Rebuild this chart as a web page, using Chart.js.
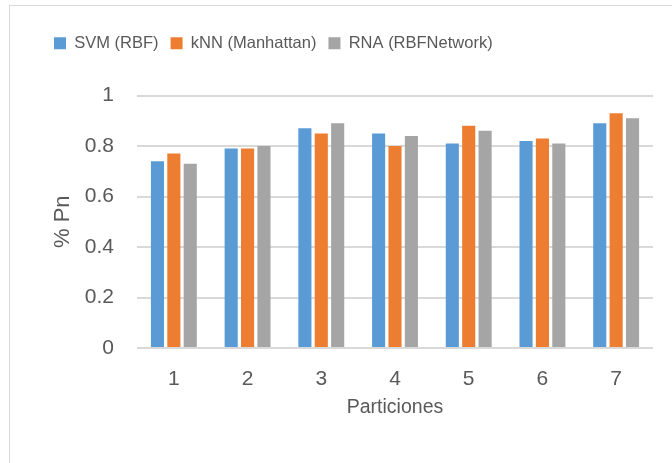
<!DOCTYPE html>
<html>
<head>
<meta charset="utf-8">
<script src="https://cdn.jsdelivr.net/npm/chart.js@4"></script>
<style>
  html, body { margin: 0; padding: 0; background: #fff; }
  #wrap { position: relative; width: 672px; height: 463px; overflow: hidden; }
  #frame { position: absolute; left: 9px; top: 5px; width: 700px; height: 500px; border: 1px solid #d9d9d9; box-sizing: border-box; }
  canvas { position: absolute; left: 0; top: 0; }
</style>
</head>
<body>
<div id="wrap">
  <div id="frame"></div>
  <canvas id="c" width="672" height="463"></canvas>
</div>
<script>
const categories = ["1", "2", "3", "4", "5", "6", "7"];
const seriesNames = ["SVM (RBF)", "kNN (Manhattan)", "RNA (RBFNetwork)"];
const svmValues = [0.74, 0.79, 0.87, 0.85, 0.81, 0.82, 0.89];
const knnValues = [0.77, 0.79, 0.85, 0.80, 0.88, 0.83, 0.93];
const rnaValues = [0.73, 0.80, 0.89, 0.84, 0.86, 0.81, 0.91];
const yTicks = [0, 0.2, 0.4, 0.6, 0.8, 1];
const colors = ["#5B9BD5", "#ED7D31", "#A5A5A5"];

const FONT = "'Liberation Sans', Arial, sans-serif";
const TXT = "#595959";

const legendSpacer = {
  id: "legendSpacer",
  beforeUpdate(chart) {
    const lg = chart.legend;
    if (lg && !lg._spacerPatched) {
      const orig = lg.fit.bind(lg);
      lg.fit = function () { orig(); this.height += 34; };
      lg._spacerPatched = true;
    }
  }
};

new Chart(document.getElementById("c"), {
  type: "bar",
  data: {
    labels: categories,
    datasets: [svmValues, knnValues, rnaValues].map((d, i) => ({
      label: seriesNames[i],
      data: d,
      backgroundColor: colors[i],
      borderWidth: 0,
      categoryPercentage: 0.667,
      barPercentage: 0.8
    }))
  },
  plugins: [legendSpacer],
  options: {
    responsive: false,
    animation: false,
    devicePixelRatio: 1,
    layout: { padding: { left: 42, right: 19, top: 23, bottom: 44 } },
    plugins: {
      tooltip: { enabled: false },
      legend: {
        position: "top",
        align: "start",
        labels: {
          boxWidth: 12, boxHeight: 12, padding: 12,
          color: TXT,
          font: { family: FONT, size: 16.5 }
        }
      }
    },
    scales: {
      x: {
        afterFit: (s) => { s.height = 71; },
        grid: { display: false, drawTicks: false },
        border: { display: false },
        ticks: { color: TXT, font: { family: FONT, size: 21 }, padding: 19 },
        title: { display: true, text: "Particiones", color: TXT, font: { family: FONT, size: 19.5 }, padding: { top: 4, bottom: 0 } }
      },
      y: {
        min: 0, max: 1,
        afterBuildTicks: (s) => { s.ticks = yTicks.map(v => ({ value: v })); },
        afterFit: (s) => { s.width = 95; },
        grid: { color: "#d9d9d9", lineWidth: 2, drawTicks: false },
        border: { display: false },
        ticks: {
          color: TXT, font: { family: FONT, size: 21 }, padding: 23,
          callback: (v) => String(Math.round(v * 10) / 10)
        },
        title: { display: true, text: "% Pn", color: TXT, font: { family: FONT, size: 22 }, padding: { top: 8, bottom: 0 } }
      }
    }
  }
});
</script>
</body>
</html>
